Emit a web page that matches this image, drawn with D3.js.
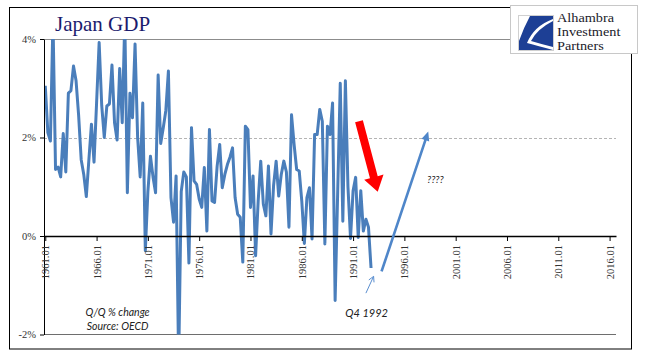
<!DOCTYPE html>
<html><head><meta charset="utf-8">
<script src="https://cdn.jsdelivr.net/npm/d3@7/dist/d3.min.js"></script>
<style>body{margin:0;background:#fff}svg{display:block}</style>
</head><body>
<svg id="c" width="648" height="361"></svg>
<script>
// ---- data ----
const startYear = 1961;
const totalQuarters = 223; // category slots on the axis (1961.01 .. 2016.03)
const gdpQoQ = [
 3.05,2.1,1.93,4.4,1.35,1.4,1.2,2.08,1.3,2.9,2.95,3.45,3.15,2.45,1.55,1.25,
 0.8,1.55,2.27,1.5,2.7,3.93,2.65,2.0,2.64,2.68,3.47,2.3,1.95,3.4,2.3,4.4,
 0.88,2.9,2.4,3.9,2.0,1.2,2.7,-0.3,0.9,1.62,1.2,0.88,3.27,1.88,2.2,2.55,
 3.35,0.78,0.28,1.22,-2.6,0.9,1.3,1.2,-0.55,2.2,1.12,1.05,0.75,0.58,1.39,0.1,
 2.16,0.71,0.68,1.42,1.86,0.98,1.25,1.45,1.6,1.79,0.78,0.44,0.38,-0.53,2.23,2.16,
 0.58,1.22,-0.4,0.71,1.52,0.65,0.41,1.42,0.04,1.02,1.52,0.81,1.25,1.52,1.3,0.18,
 2.46,1.86,1.35,1.32,0.71,-0.15,0.78,0.98,-0.06,2.06,2.06,2.57,2.33,-0.16,2.23,2.06,
 2.7,-1.31,0.9,3.1,0.3,3.15,1.0,-0.05,0.92,1.19,-0.03,0.92,0.1,0.34,0.18,-0.65
];
const tickLabels = ["1961.01","1966.01","1971.01","1976.01","1981.01","1986.01","1991.01","1996.01","2001.01","2006.01","2011.01","2016.01"];
const yTicks = [-2,0,2,4];
const logoLines = ["Alhambra","Investment","Partners"];

// ---- layout ----
const svg = d3.select("#c");
const L = 44, R = 616, T = 39, B = 334.5;
const x = d3.scaleLinear().domain([-0.5, totalQuarters - 0.5]).range([L, R]);
const y = d3.scaleLinear().domain([-2, 4]).range([B, T]);
const catIndex = lbl => (parseInt(lbl) - startYear) * 4 + (parseInt(lbl.split(".")[1]) - 1);

// outer frame
svg.append("rect").attr("x",9.5).attr("y",7.5).attr("width",622).attr("height",341.5)
  .attr("fill","#fff").attr("stroke","#000").attr("stroke-width",1);

// top (4%) and bottom (-2%) lines
svg.append("line").attr("x1",L).attr("x2",R).attr("y1",T+0.5).attr("y2",T+0.5).attr("stroke","#8c8c8c");
svg.append("line").attr("x1",L).attr("x2",R).attr("y1",B).attr("y2",B).attr("stroke","#6e6e6e");
// 2% dashed gridline
svg.append("line").attr("x1",L).attr("x2",R).attr("y1",Math.round(y(2))+0.5).attr("y2",Math.round(y(2))+0.5)
  .attr("stroke","#b4b4b4").attr("stroke-dasharray","3,2");

// clip
svg.append("clipPath").attr("id","pc").append("rect").attr("x",L).attr("y",T).attr("width",R-L).attr("height",B-T);

// data line
const line = d3.line().x((d,i)=>x(i)).y(d=>y(d));
svg.append("path").datum(gdpQoQ).attr("clip-path","url(#pc)")
  .attr("d",line).attr("fill","none").attr("stroke","#4a7ebb").attr("stroke-width",3)
  .attr("stroke-linejoin","round");

// y axis
const gy = svg.append("g").attr("transform",`translate(${L},0)`)
  .call(d3.axisLeft(y).tickValues(yTicks).tickFormat(d=>d+"%").tickSize(4).tickSizeOuter(0).tickPadding(4));
gy.select(".domain").attr("stroke","#000");
gy.selectAll(".tick line").attr("stroke","#000");
gy.selectAll("text").attr("font-family","'Liberation Serif',serif").attr("font-size",10.5).attr("fill","#333");

// x axis at 0
const gx = svg.append("g").attr("transform",`translate(0,${y(0)})`)
  .call(d3.axisBottom(x).tickValues(tickLabels.map(catIndex)).tickFormat((d,i)=>tickLabels[i]).tickSize(5).tickSizeOuter(0));
gx.select(".domain").attr("stroke","#000").attr("stroke-width",1.3);
gx.selectAll(".tick line").attr("stroke","#000");
gx.selectAll("text").attr("transform","rotate(-90)").attr("text-anchor","end")
  .attr("x",-9).attr("y",0).attr("dy","0.33em")
  .attr("font-family","'Liberation Serif',serif").attr("font-size",10.5).attr("fill","#333");

// title
svg.append("text").attr("x",55).attr("y",31).text("Japan GDP")
  .attr("font-family","'Liberation Serif',serif").attr("font-size",21).attr("fill","#1b1b6e");

// notes
const noteFont = "Lato, 'Liberation Sans', sans-serif";
svg.append("text").attr("x",x(28.2)).attr("y",y(-1.62)).attr("text-anchor","middle").text("Q/Q % change")
  .attr("font-family",noteFont).attr("font-style","italic").attr("font-size",10.5).attr("fill","#222");
svg.append("text").attr("x",x(28.2)).attr("y",y(-1.91)).attr("text-anchor","middle").text("Source: OECD")
  .attr("font-family",noteFont).attr("font-style","italic").attr("font-size",10.5).attr("fill","#222");
svg.append("text").attr("x",x(125.3)).attr("y",y(-1.64)).attr("text-anchor","middle").text("Q4 1992")
  .attr("font-family",noteFont).attr("font-style","italic").attr("font-size",11).attr("fill","#222");
svg.append("text").attr("x",x(148.8)).attr("y",y(1.08)).text("????")
  .attr("font-family",noteFont).attr("font-style","italic").attr("font-size",10).attr("fill","#222");

// arrows
function arrow(x1,y1,x2,y2,shaftW,headW,headL,fill){
  const dx=x2-x1, dy=y2-y1, len=Math.hypot(dx,dy), ux=dx/len, uy=dy/len, px=-uy, py=ux;
  const bx=x2-ux*headL, by=y2-uy*headL;
  const pts=[[x1+px*shaftW/2,y1+py*shaftW/2],[bx+px*shaftW/2,by+py*shaftW/2],[bx+px*headW/2,by+py*headW/2],[x2,y2],
    [bx-px*headW/2,by-py*headW/2],[bx-px*shaftW/2,by-py*shaftW/2],[x1-px*shaftW/2,y1-py*shaftW/2]];
  svg.append("polygon").attr("points",pts.map(p=>p.join(",")).join(" ")).attr("fill",fill);
}
arrow(x(122.3),y(2.33),x(129.6),y(0.9),8,20,15,"#ff0000");
arrow(x(131.1),y(-0.72),x(149.3),y(2.12),2.6,8,9,"#4f86c9");
// thin pointer to Q4 1992
const p1=[x(125),y(-1.16)], p2=[x(128),y(-0.82)];
svg.append("line").attr("x1",p1[0]).attr("y1",p1[1]).attr("x2",p2[0]).attr("y2",p2[1]).attr("stroke","#5b8fd0").attr("stroke-width",1);
(function(){const dx=p2[0]-p1[0],dy=p2[1]-p1[1],l=Math.hypot(dx,dy),ux=dx/l,uy=dy/l;
 const a=0.5,h=6;[a,-a].forEach(s=>{const c=Math.cos(s),sn=Math.sin(s);
 const vx=-(ux*c-uy*sn), vy=-(ux*sn+uy*c);
 svg.append("line").attr("x1",p2[0]).attr("y1",p2[1]).attr("x2",p2[0]+vx*h).attr("y2",p2[1]+vy*h).attr("stroke","#5b8fd0").attr("stroke-width",1);});})();

// logo
const lg = svg.append("g");
lg.append("rect").attr("x",510.5).attr("y",5.5).attr("width",127).attr("height",48).attr("fill","#fff").attr("stroke","#c8c8c8");
lg.append("rect").attr("x",518.5).attr("y",15.5).attr("width",35).attr("height",35).attr("fill","#fff").attr("stroke","#d0d0d0");
lg.append("path").attr("d","M530,16 L553,16 L553,19 Q534,26 527,43 Q538,46 553,50 L519,50 L519,41 Q524,27 530,16 Z").attr("fill","#1d3f95");
lg.append("path").attr("d","M553,21 Q537,29 531,41 Q541,44 553,47 Z").attr("fill","#1d3f95");
const lt = lg.append("g").attr("transform","translate(557,0) scale(1.15,1)");
logoLines.forEach((t,i)=>{
  lt.append("text").attr("x",0).attr("y",22.5+i*14).text(t)
    .attr("font-family","'Liberation Serif',serif").attr("font-size",12.4).attr("fill","#1a1a2a");
});
</script>
</body></html>
